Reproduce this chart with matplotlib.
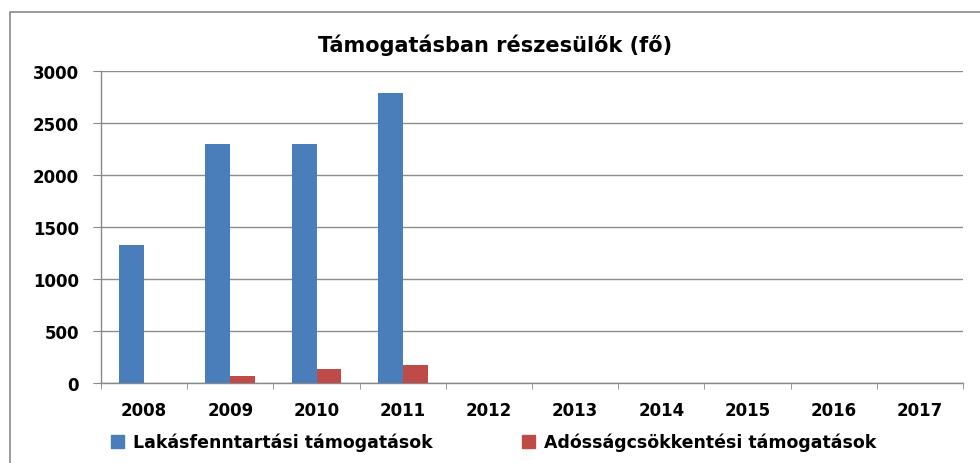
import matplotlib
matplotlib.use("Agg")
import matplotlib.pyplot as plt
import numpy as np
from matplotlib.patches import Rectangle

years = ["2008", "2009", "2010", "2011", "2012", "2013", "2014", "2015", "2016", "2017"]
lakas = [1330, 2300, 2300, 2790, 0, 0, 0, 0, 0, 0]
adossag = [0, 70, 130, 175, 0, 0, 0, 0, 0, 0]
series_names = ["Lakásfenntartási támogatások", "Adósságcsökkentési támogatások"]
title = "Támogatásban részesülők (fő)"
yticks = [0, 500, 1000, 1500, 2000, 2500, 3000]

blue = "#4A7EBB"
red = "#BE4B48"
tick_fs = 12

fig = plt.figure(figsize=(9.8, 4.64), dpi=100)
fig.patch.set_facecolor("white")

# outer chart border
fig.add_artist(Rectangle((10 / 980, -0.05), 1.0, 1 - 13 / 464 + 0.05,
                         transform=fig.transFigure, fill=False,
                         edgecolor="#8a8a8a", linewidth=1.2))

ax = fig.add_axes([101 / 980, 1 - 384 / 464, (963 - 101) / 980, (384 - 72) / 464])
x = np.arange(len(years))
w = 0.29
ax.bar(x - w / 2, lakas, width=w, color=blue, label=series_names[0], zorder=3)
ax.bar(x + w / 2, adossag, width=w, color=red, label=series_names[1], zorder=3)

ax.set_xlim(-0.5, len(years) - 0.5)
ax.set_ylim(0, 3000)
ax.set_yticks(yticks)
ax.set_yticklabels([str(v) for v in yticks], fontsize=tick_fs, fontweight="bold")
ax.set_xticks(x)
ax.set_xticklabels(years, fontsize=tick_fs, fontweight="bold")
ax.set_xticks(np.arange(len(years) + 1) - 0.5, minor=True)
ax.tick_params(axis="x", which="major", length=0, pad=13)
ax.tick_params(axis="x", which="minor", length=4, color="#888888", direction="out")
ax.tick_params(axis="y", length=6, color="#888888", pad=10)
ax.grid(axis="y", color="#8c8c8c", linewidth=1.0, zorder=0)
for s in ["top", "right"]:
    ax.spines[s].set_visible(False)
for s in ["left", "bottom"]:
    ax.spines[s].set_color("#888888")
    ax.spines[s].set_linewidth(1.0)

fig.text(495 / 980, 1 - 45 / 464, title, ha="center", va="center",
         fontsize=15, fontweight="bold")

leg_y = 1 - 443 / 464
for handle_color, name, x0 in [(blue, series_names[0], 111), (red, series_names[1], 522)]:
    h = Rectangle((0, 0), 1, 1, color=handle_color)
    fig.legend([h], [name], loc="center left", bbox_to_anchor=(x0 / 980, leg_y),
               frameon=False, prop={"weight": "bold", "size": 12.5},
               borderpad=0, borderaxespad=0,
               handlelength=0.75, handleheight=0.75, handletextpad=0.5)

fig.savefig("out.png", dpi=100, facecolor="white")
